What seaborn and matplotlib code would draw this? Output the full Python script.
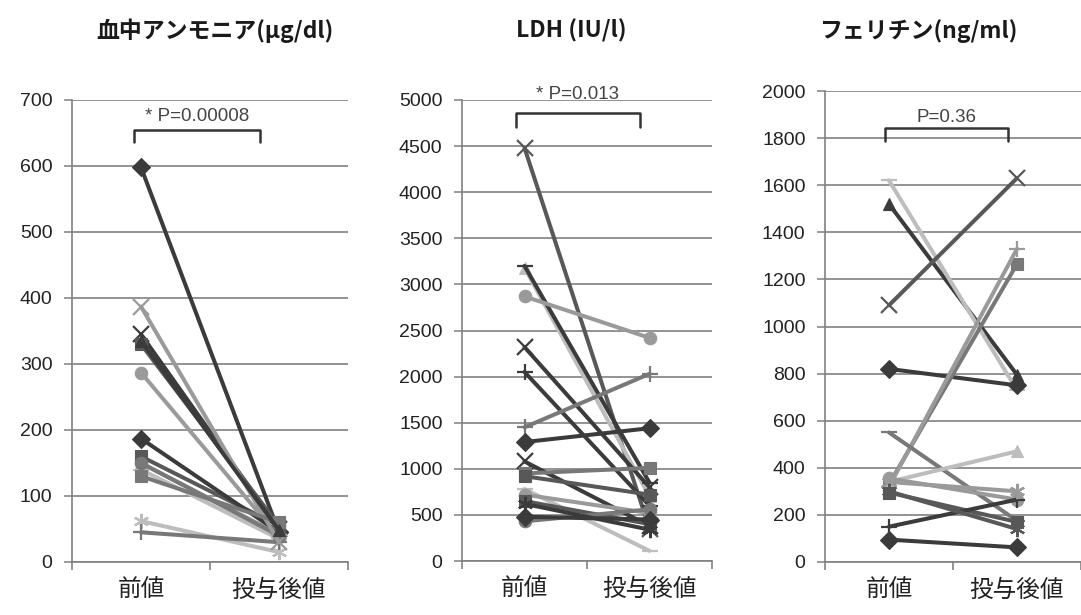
import numpy as np
import pandas as pd
import matplotlib
matplotlib.use("Agg")
import matplotlib.pyplot as plt
import seaborn as sns

# ---- data -------------------------------------------------------------
timepoints = ["前値", "投与後値"]

ammonia_before = [598, 160, 150, 345, 62, 287, 45, 140, 187, 330, 150, 387, 130, 335]
ammonia_after = [45, 55, 42, 50, 15, 38, 30, 35, 45, 55, 40, 30, 60, 48]

ldh_before = [4480, 3180, 3200, 2870, 2320, 2050, 1450, 1290, 1080, 950, 920, 780, 720, 650, 430, 480, 620]
ldh_after = [350, 700, 850, 2420, 800, 600, 2030, 1440, 380, 1010, 720, 110, 520, 400, 560, 450, 340]

ferritin_before = [1520, 1620, 1090, 820, 330, 320, 550, 340, 355, 295, 150, 95, 340, 300]
ferritin_after = [795, 730, 1630, 750, 1265, 1330, 175, 470, 265, 170, 265, 62, 300, 140]

panel_titles = ["血中アンモニア(μg/dl)", "LDH (IU/l)", "フェリチン(ng/ml)"]
p_labels = ["* P=0.00008", "* P=0.013", "P=0.36"]
y_max = [700, 5000, 2000]
y_step = [100, 500, 200]

# ---- styles -----------------------------------------------------------
DK, MD, GR, LG, VL = "#3b3b3b", "#585858", "#787878", "#9a9a9a", "#bdbdbd"
AST = (6, 2, 0)  # asterisk marker

ammonia_style = [("D", DK), ("s", MD), ("^", LG), ("x", DK), (AST, VL), ("o", LG),
                 ("+", GR), ("_", VL), ("D", DK), ("s", MD), ("o", GR), ("x", LG),
                 ("s", GR), ("^", DK)]
ldh_style = [("x", MD), ("^", VL), ("_", DK), ("o", LG), ("x", DK), ("+", DK),
             ("+", GR), ("D", DK), ("x", DK), ("s", GR), ("s", MD), ("_", VL),
             ("o", LG), ("s", MD), ("o", GR), ("D", DK), (AST, DK)]
ferritin_style = [("^", DK), ("_", VL), ("x", MD), ("D", DK), ("s", GR), ("+", LG),
                  ("_", GR), ("^", VL), ("o", LG), ("s", MD), ("+", DK), ("D", DK),
                  (AST, LG), (AST, MD)]

panels = [
    (ammonia_before, ammonia_after, ammonia_style),
    (ldh_before, ldh_after, ldh_style),
    (ferritin_before, ferritin_after, ferritin_style),
]

# bracket geometry per panel: (left x, right x, leg bottom, top, text y)
brackets = [(-0.05, 0.86, 636, 655, 675),
            (-0.07, 0.92, 4710, 4860, 5060),
            (-0.03, 0.93, 1788, 1843, 1888)]

# axes rectangles in pixels: left, right, top, bottom
W, H = 1081, 615
rects_px = [(72, 348, 100, 562), (462, 712, 100, 561), (825, 1081, 91, 562)]
title_x = [215, 571, 918]

sns.set_theme(style="white")
plt.rcParams["font.family"] = ["Liberation Sans", "DejaVu Sans"]
cjk = ["Noto Sans CJK JP", "DejaVu Sans"]

fig = plt.figure(figsize=(W / 100, H / 100), dpi=100)
fig.patch.set_facecolor("white")


def long_frame(before, after):
    rows = []
    for i, (b, a) in enumerate(zip(before, after)):
        rows.append({"patient": i, "pos": 0, "value": b})
        rows.append({"patient": i, "pos": 1, "value": a})
    return pd.DataFrame(rows)


for k, (before, after, styles) in enumerate(panels):
    l, r, t, b = rects_px[k]
    ax = fig.add_axes([l / W, (H - b) / H, (r - l) / W, (b - t) / H])
    ax.set_facecolor("white")
    df = long_frame(before, after)

    for pid, sub in df.groupby("patient"):
        mk, col = styles[pid]
        line_art = mk in ("x", "+", "_") or mk == AST
        sns.lineplot(data=sub, x="pos", y="value", ax=ax, color=col,
                     marker=mk, markersize=11 if line_art else 9,
                     mec=col, mew=1.6 if line_art else 0.8,
                     linewidth=2.9, errorbar=None, legend=False)

    ax.set_xlim(-0.5, 1.5)
    ax.set_ylim(0, y_max[k])
    ax.set_yticks(np.arange(0, y_max[k] + 1, y_step[k]))
    ax.grid(axis="y", color="#808080", linewidth=1.2)
    ax.grid(axis="x", visible=False)
    ax.set_axisbelow(True)

    ax.set_xticks([-0.5, 0.5, 1.5])
    ax.set_xticklabels([])
    ax.set_xticks([0, 1], minor=True)
    ax.set_xticklabels(timepoints, minor=True, fontsize=17, family=cjk, color="#222222")
    ax.tick_params(axis="x", which="major", length=6, width=1.1, color="#777777", bottom=True)
    ax.tick_params(axis="x", which="minor", length=0, pad=12)
    ax.tick_params(axis="y", length=6, width=1.1, color="#808080", left=True,
                   labelsize=14, labelcolor="#222222", pad=8)
    ax.set_xlabel("")
    ax.set_ylabel("")

    for side in ("top", "right"):
        ax.spines[side].set_visible(False)
    for side in ("left", "bottom"):
        ax.spines[side].set_color("#808080")
        ax.spines[side].set_linewidth(1.2)

    x0, x1, y_leg, y_top, y_txt = brackets[k]
    ax.plot([x0, x0, x1, x1], [y_leg, y_top, y_top, y_leg], color="#333333",
            linewidth=1.8, clip_on=False, zorder=5)
    ax.text((x0 + x1) / 2, y_txt, p_labels[k], ha="center", va="center",
            fontsize=13.5, color="#444444", zorder=5)

    fig.text(title_x[k] / W, 1 - 31 / H, panel_titles[k], ha="center", va="center",
             fontsize=16.5, fontweight="bold", family=cjk, color="#1a1a1a")

fig.savefig("out.png", dpi=100, facecolor="white")
